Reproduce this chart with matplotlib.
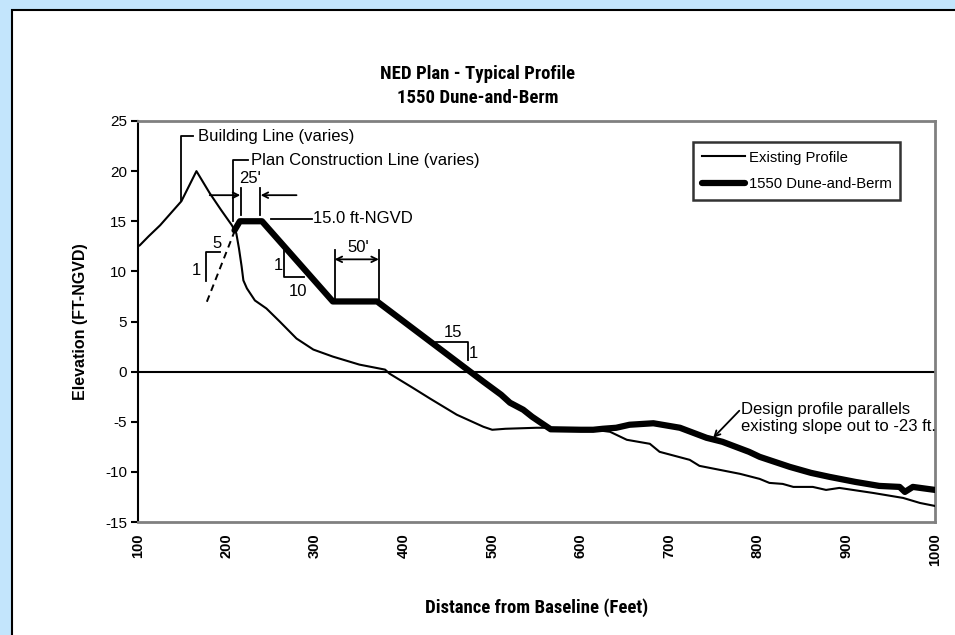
import matplotlib
matplotlib.use("Agg")
import matplotlib.pyplot as plt
from matplotlib.patches import Rectangle
from matplotlib import font_manager

# data (distance ft, elevation ft-NGVD)
existing_x = [100, 102, 112, 125, 149, 166, 181, 194, 206, 211, 214, 217, 219, 223, 232,
              245, 260, 279, 298, 320, 350, 379, 384, 410, 430, 460, 490, 500, 515, 550,
              565, 600, 615, 633, 652, 678, 689, 723, 734, 757, 780, 802, 813, 828, 840,
              862, 877, 892, 930, 964, 983, 1000]
existing_y = [12.5, 12.6, 13.5, 14.6, 17.0, 20.0, 17.8, 16.1, 14.6, 13.8, 12.3, 10.5, 9.1, 8.3, 7.1,
              6.3, 5.0, 3.3, 2.2, 1.5, 0.7, 0.2, -0.2, -1.6, -2.7, -4.3, -5.5, -5.8, -5.7, -5.6,
              -5.6, -5.8, -5.8, -6.0, -6.8, -7.2, -8.0, -8.8, -9.4, -9.8, -10.2, -10.7, -11.1, -11.2, -11.5,
              -11.5, -11.8, -11.6, -12.1, -12.6, -13.1, -13.4]

design_x = [209, 215, 240, 320, 370, 475, 490, 510, 520, 535, 545, 555, 566, 600, 614,
            625, 640, 655, 682, 712, 742, 760, 772, 790, 802, 836, 860, 881, 910, 937,
            960, 966, 975, 1000]
design_y = [14.1, 15.0, 15.0, 7.0, 7.0, 0.0, -1.0, -2.3, -3.1, -3.8, -4.5, -5.1, -5.75, -5.8, -5.8,
            -5.7, -5.6, -5.3, -5.15, -5.6, -6.6, -7.0, -7.4, -8.0, -8.5, -9.5, -10.1, -10.5, -11.0, -11.4,
            -11.5, -12.0, -11.5, -11.8]

x_ticks = list(range(100, 1001, 100))
y_ticks = list(range(-15, 26, 5))

names = {f.name for f in font_manager.fontManager.ttflist}
narrow = None
for cand in ["Liberation Sans Narrow", "Arial Narrow", "Roboto Condensed", "Open Sans Condensed"]:
    if cand in names:
        narrow = cand
        break
plt.rcParams["font.family"] = ["Liberation Sans", "DejaVu Sans"]

fig = plt.figure(figsize=(9.55, 6.35), dpi=100)
fig.patch.set_facecolor("#C3E5FC")
fig.add_artist(Rectangle((12 / 955, -0.05), 1.1, 1 - 10 / 635 + 0.05, transform=fig.transFigure,
                         facecolor="white", edgecolor="black", linewidth=1.5, zorder=0))

ax = fig.add_axes([138 / 955, 1 - 522 / 635, 797 / 955, 401 / 635])
ax.set_facecolor("white")
ax.set_xlim(100, 1000)
ax.set_ylim(-15, 25)

ax.axhline(0, color="black", linewidth=1.5, zorder=1)
ax.plot(existing_x, existing_y, color="black", linewidth=1.5, zorder=3, label="Existing Profile")
ax.plot(design_x, design_y, color="black", linewidth=4.5, solid_capstyle="round",
        solid_joinstyle="round", zorder=4, label="1550 Dune-and-Berm")

for side in ["top", "right", "bottom"]:
    ax.spines[side].set_color("#808080")
    ax.spines[side].set_linewidth(2)
ax.spines["left"].set_color("black")
ax.spines["left"].set_linewidth(1.5)

ax.set_xticks(x_ticks)
ax.set_xticklabels([str(v) for v in x_ticks], rotation=90, fontweight="bold", fontsize=10.5)
ax.tick_params(axis="x", length=0, pad=8)
ax.set_yticks(y_ticks)
ax.set_yticklabels([str(v) for v in y_ticks], fontsize=11)
ax.tick_params(axis="y", direction="out", length=5, width=1.5, pad=3)

if narrow:
    ax.set_xlabel("Distance from Baseline (Feet)", fontweight="bold", fontsize=13.5, family=narrow, labelpad=23)
    title_kw = dict(fontsize=13.5, family=narrow)
else:
    ax.set_xlabel("Distance from Baseline (Feet)", fontweight="bold", fontsize=11.5, labelpad=23)
    title_kw = dict(fontsize=12)
ax.set_ylabel("Elevation (FT-NGVD)", fontweight="bold", fontsize=11.5, labelpad=12)
fig.text(0.5, 1 - 86 / 635, "NED Plan - Typical Profile\n1550 Dune-and-Berm", ha="center", va="center",
         fontweight="bold", linespacing=1.45, **title_kw)

leg = ax.legend(loc="upper right", bbox_to_anchor=(0.966, 0.967), frameon=True, fancybox=False,
                edgecolor="black", fontsize=10.7, handlelength=2.9, handletextpad=0.25,
                borderpad=0.6, labelspacing=0.85)
leg.get_frame().set_linewidth(1.8)

# callouts
k = dict(color="black", linewidth=1.3, zorder=5)
fs = 12
ap = dict(color="black", lw=1.3, shrinkA=0, shrinkB=0)
# building line
ax.plot([149, 149, 162], [17.1, 23.5, 23.5], **k)
ax.text(168, 23.5, "Building Line (varies)", fontsize=fs, va="center")
# plan construction line
ax.plot([207.6, 207.6, 224], [15.0, 21.1, 21.1], **k)
ax.text(228, 21.1, "Plan Construction Line (varies)", fontsize=fs, va="center")
# 25' crest width
ax.plot([216, 216], [15.6, 18.3], **k)
ax.plot([238, 238], [15.6, 18.3], **k)
ax.annotate("", xy=(215.5, 17.6), xytext=(181, 17.6), arrowprops=dict(arrowstyle="->", **ap))
ax.annotate("", xy=(238.5, 17.6), xytext=(279, 17.6), arrowprops=dict(arrowstyle="->", **ap))
ax.text(227, 19.3, "25'", fontsize=fs, ha="center", va="center")
# crest elevation
ax.plot([250, 296], [15.2, 15.2], **k)
ax.text(298, 15.3, "15.0 ft-NGVD", fontsize=fs, va="center")
# 1:5 slope and dashed extension
ax.plot([209.5, 177], [14.1, 6.8], color="black", linewidth=1.4, linestyle=(0, (3.5, 2.5)), zorder=5)
ax.plot([176.4, 176.4, 192.5], [9.0, 11.9, 11.9], **k)
ax.text(189, 12.8, "5", fontsize=fs, ha="center", va="center")
ax.text(165.5, 10.1, "1", fontsize=fs, ha="center", va="center")
# 1:10 slope
ax.plot([265, 265, 287], [12.1, 9.4, 9.4], **k)
ax.text(258.5, 10.6, "1", fontsize=fs, ha="center", va="center")
ax.text(281, 8.0, "10", fontsize=fs, ha="center", va="center")
# 50' berm width
ax.plot([322, 322], [7, 12.1], **k)
ax.plot([372, 372], [7, 12.1], **k)
ax.annotate("", xy=(322, 11.2), xytext=(372, 11.2), arrowprops=dict(arrowstyle="<->", **ap))
ax.text(349, 12.4, "50'", fontsize=fs, ha="center", va="center")
# 1:15 slope
ax.plot([437, 473, 473], [2.93, 2.93, 1.17], **k)
ax.text(456, 3.9, "15", fontsize=fs, ha="center", va="center")
ax.text(479, 1.8, "1", fontsize=fs, ha="center", va="center")
# design note
ax.annotate("", xy=(749.5, -6.6), xytext=(779, -3.9), arrowprops=dict(arrowstyle="->", **ap))
ax.text(780.5, -4.6, "Design profile parallels\nexisting slope out to -23 ft.", fontsize=fs,
        va="center", linespacing=1.15)

fig.savefig("out.png", dpi=100, facecolor=fig.get_facecolor())
plt.close(fig)
